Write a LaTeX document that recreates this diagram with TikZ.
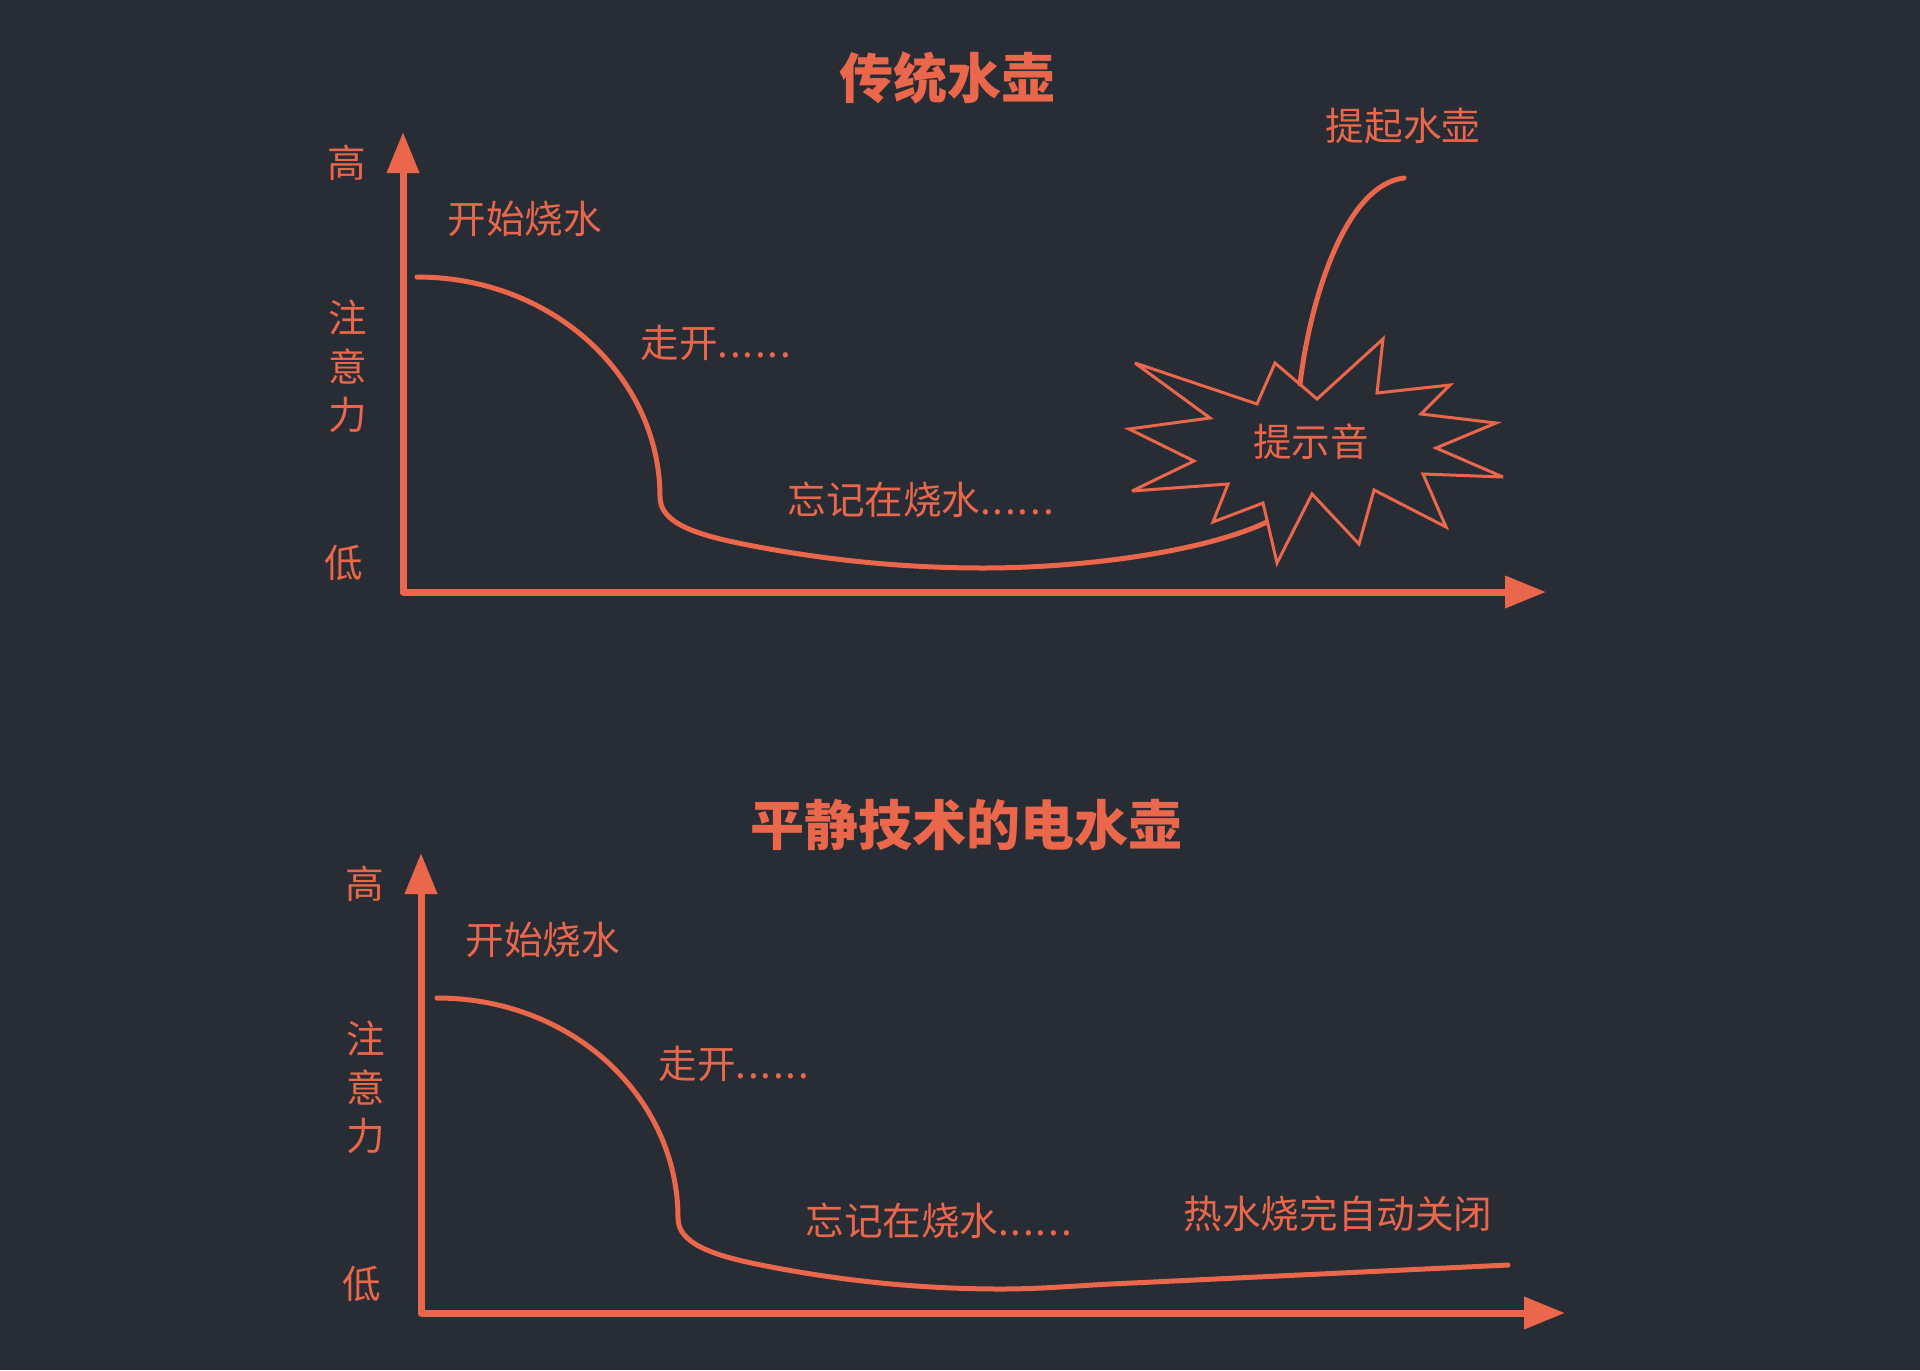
\documentclass[tikz,border=0pt]{standalone}
\usepackage{fontspec}
\setmainfont{Noto Sans CJK SC}
\usetikzlibrary{arrows.meta}
\definecolor{fg}{HTML}{EA674B}
\definecolor{bg}{HTML}{282D35}
\newcommand{\mydots}{.\kern0.9pt.\kern0.9pt.\kern0.9pt.\kern0.9pt.\kern0.9pt.}
\begin{document}
\begin{tikzpicture}[x=0.5pt,y=0.5pt,
  axis/.style={draw=fg, line width=3.5pt, line join=round, {Triangle[length=20.5pt,width=15.5pt]}-{Triangle[length=20.5pt,width=15.5pt]}},
  curve/.style={draw=fg, line width=2.5pt, line cap=round},
  burst/.style={draw=fg, line width=1.5pt, line join=miter, miter limit=4},
  lbl/.style={text=fg, font=\fontsize{19.3pt}{22pt}\selectfont, inner sep=0pt},
  ttl/.style={text=fg, font=\fontsize{27pt}{30pt}\selectfont\bfseries, inner sep=0pt}]
\fill[bg] (0,0) rectangle (1920,-1370);
\useasboundingbox (0,0) rectangle (1920,-1370);

% titles
\node[ttl] (t1) at (947,-78) {传统水壶};
\node[ttl] (t2) at (966,-825) {平静技术的电水壶};

% ---------- top chart ----------
\begin{scope}[shift={(403,-592)}]
\coordinate (o1) at (0,0);
\coordinate (yt1) at (0,460);
\coordinate (xt1) at (1143,0);
\draw[axis] (yt1) -- (o1) -- (xt1);
\node[lbl] (hi1) at (-56,429) {高};
\node[lbl] (z1) at (-55,274) {注};
\node[lbl] (y1) at (-55,226) {意};
\node[lbl] (l1) at (-55,177) {力};
\node[lbl] (lo1) at (-59,29) {低};
\node[lbl, anchor=west] (s1) at (44,373) {开始烧水};
\node[lbl, anchor=west] (w1) at (237,249) {走开\mydots};
\node[lbl, anchor=west] (f1) at (384,92) {忘记在烧水\mydots};
\draw[curve] (14,315) .. controls (150,315) and (257,215) .. (257,95)
  .. controls (257,70) and (290,58) .. (340,48)
  .. controls (420,32) and (500,24) .. (580,24)
  .. controls (680,24) and (800,40) .. (864,70);
\end{scope}

% starburst
\draw[burst, fill=bg] (1135,-363) -- (1257,-404) -- (1275,-363) -- (1317,-399) -- (1383,-339)
  -- (1377,-393) -- (1450,-385) -- (1421,-414) -- (1496,-423) -- (1436,-448)
  -- (1503,-477) -- (1423,-474) -- (1446,-527) -- (1374,-490) -- (1359,-544)
  -- (1312,-494) -- (1277,-563) -- (1263,-503) -- (1213,-522) -- (1228,-484)
  -- (1132,-491) -- (1194,-461) -- (1129,-429) -- (1210,-418) -- cycle;
\node[lbl] (beep) at (1311,-442) {提示音};
\node[lbl] (lift) at (1403,-126) {提起水壶};
\coordinate (rs) at (1300,-384);
\coordinate (re) at (1404,-178);
\draw[curve] (rs) .. controls (1310,-300) and (1345,-185) .. (re);

% ---------- bottom chart ----------
\begin{scope}[shift={(421,-1313)}]
\coordinate (o2) at (0,0);
\coordinate (yt2) at (0,460);
\coordinate (xt2) at (1144,0);
\draw[axis] (yt2) -- (o2) -- (xt2);
\node[lbl] (hi2) at (-56,429) {高};
\node[lbl] (z2) at (-55,274) {注};
\node[lbl] (y2) at (-55,226) {意};
\node[lbl] (l2) at (-55,177) {力};
\node[lbl] (lo2) at (-59,29) {低};
\node[lbl, anchor=west] (s2) at (44,373) {开始烧水};
\node[lbl, anchor=west] (w2) at (237,249) {走开\mydots};
\node[lbl, anchor=west] (f2) at (384,92) {忘记在烧水\mydots};
\node[lbl] (auto) at (917,99) {热水烧完自动关闭};
\draw[curve] (16,315) .. controls (152,315) and (257,215) .. (257,95)
  .. controls (257,70) and (290,58) .. (340,48)
  .. controls (420,32) and (500,24) .. (580,24)
  .. controls (620,24) and (650,27) .. (690,29) -- (1087,48);
\end{scope}
\end{tikzpicture}
\end{document}
